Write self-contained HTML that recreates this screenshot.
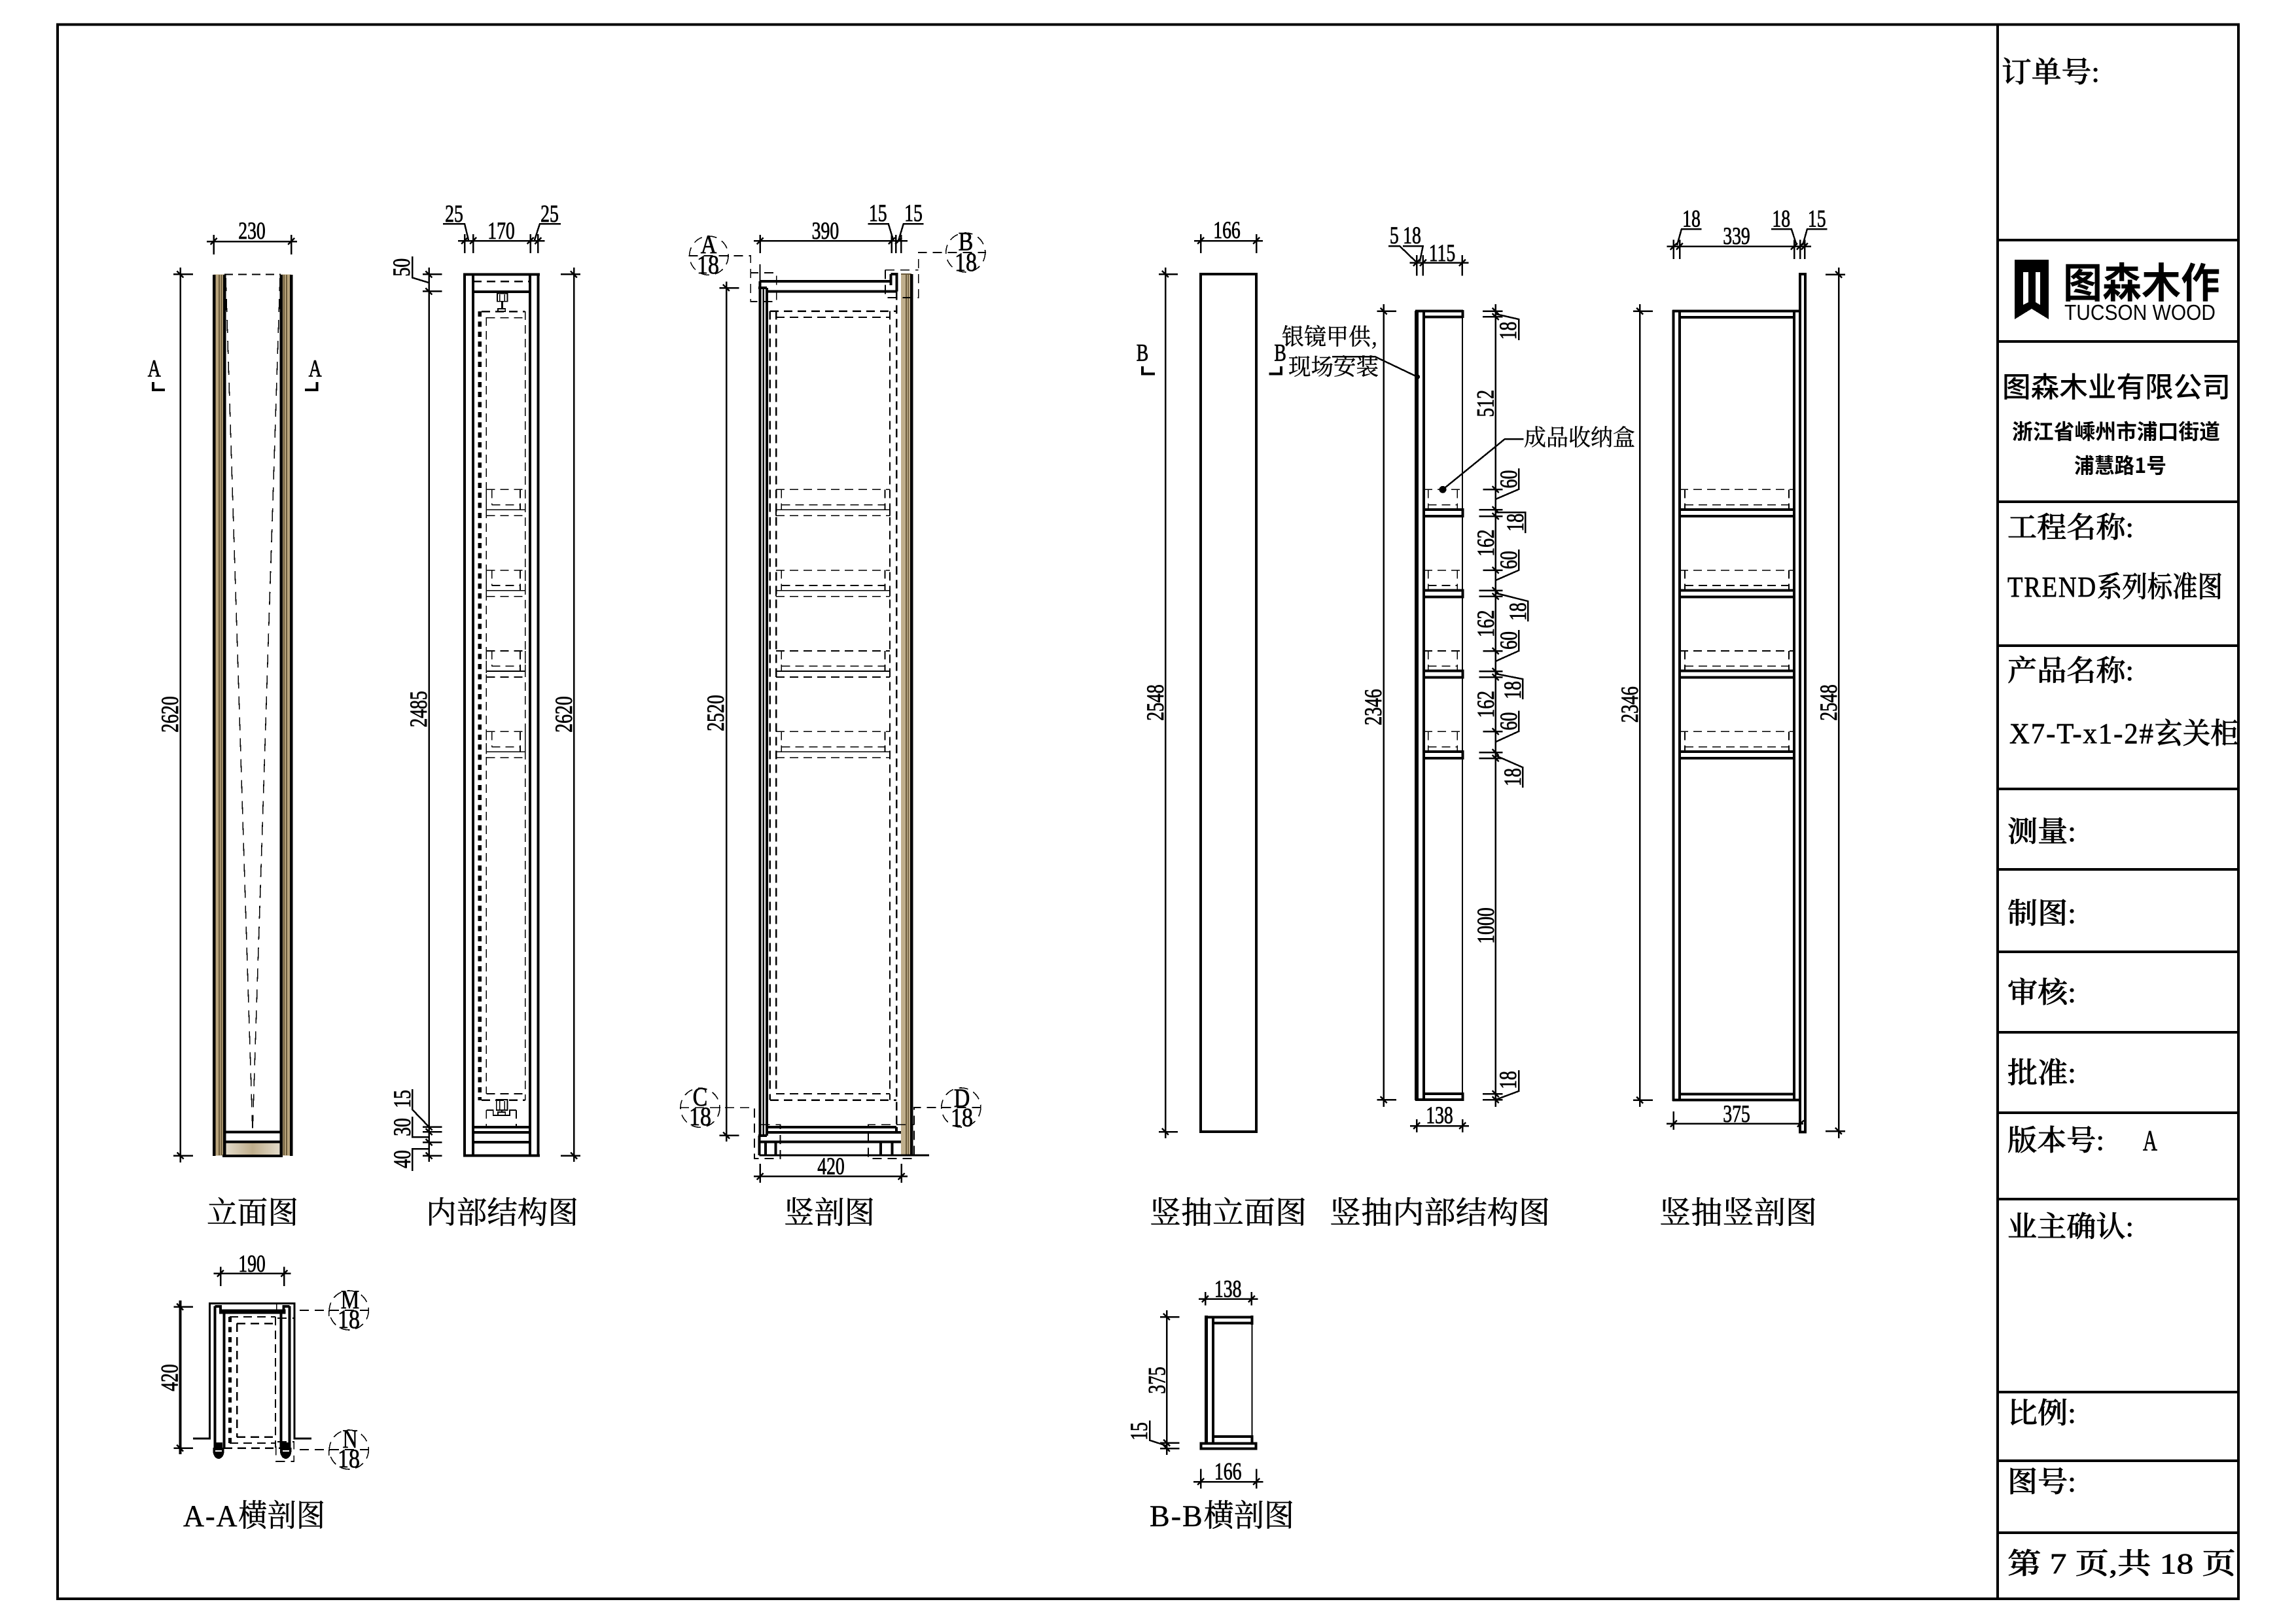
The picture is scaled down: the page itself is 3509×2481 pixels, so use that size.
<!DOCTYPE html>
<html lang="zh"><head><meta charset="utf-8"><title>TREND系列标准图</title>
<style>
html,body{margin:0;padding:0;background:#fff}
svg{display:block}
path,rect,circle,line{fill:none;stroke:#000}
.k{stroke-width:4}.m{stroke-width:3}.t{stroke-width:2.5}.n{stroke-width:1.6}
.ds{stroke-width:1.6;stroke-dasharray:13 8}.dm{stroke-width:2.5;stroke-dasharray:13 8}
.dc{stroke-width:1.6;stroke-dasharray:14 9}
.dot{stroke-width:5.5;stroke-dasharray:8 7.4}
.f{fill:#000;stroke:none}
text{fill:#000;stroke:none}
.d{font:37px "Liberation Serif","Noto Serif CJK SC",serif;text-anchor:middle;stroke:#000;stroke-width:.8}
.e{font:40px "Liberation Serif","Noto Serif CJK SC",serif;text-anchor:middle;stroke:#000;stroke-width:.7}
.c{font:47px "Liberation Serif","Noto Serif CJK SC",serif;stroke:#000;stroke-width:.5}
.l{font:35px "Noto Serif CJK SC","Liberation Serif",serif;stroke:#000;stroke-width:.4}
.b{font:500 44px "Liberation Serif","Noto Serif CJK SC",serif;stroke:#000;stroke-width:.7}
.h{font-family:"Noto Sans CJK SC","Liberation Sans",sans-serif;font-weight:700}
tspan.o{letter-spacing:2px}
</style></head><body>
<svg xmlns="http://www.w3.org/2000/svg" width="3509" height="2481" viewBox="0 0 3509 2481" shape-rendering="crispEdges">
<defs>
<path id="v" d="M-5-5 5 5" class="t"/>
<path id="h" d="M-5 5 5-5" class="t"/>
<linearGradient id="g" x1="0" x2="1" y1="0" y2="0"><stop offset="0" stop-color="#e4dccb"/><stop offset=".5" stop-color="#bfae8c"/><stop offset="1" stop-color="#e4dccb"/></linearGradient>
<g id="b2"><path class="ds" d="M743.3 0H802.6M743.3 0V40M802.6 0V40M751.7 0V23.4M795 0V31M751.7 23.4H795M743.3 40H802.6"/><path class="n" d="M743.3 31H802.6"/></g>
<g id="b3"><path class="ds" d="M1186 0H1360M1194.4 0V31M1352.5 0V31M1194.4 23.4H1352.5M1186 40H1360"/><path class="n" d="M1186 31H1360M1186 31V40M1360 31V40"/></g>
<g id="b5"><path class="ds" d="M2176 0H2235M2182.7 0V30M2227.3 0V30M2182.7 23.4H2227.3"/><path class="k" d="M2176 30.7H2236M2176 40.7H2236M2235.5 28.7V42.7"/></g>
<g id="b6"><path class="ds" d="M2567 0H2742M2575 0V30M2734 0V30M2575 23.4H2734"/><path class="k" d="M2567 30.7H2742M2567 40.7H2742"/></g>
</defs>
<rect width="3509" height="2481" style="fill:#fff;stroke:none"/>

<!-- frame + title block -->
<rect x="88" y="37.5" width="3333" height="2406.5" class="k"/>
<path class="k" d="M3053 37.5V2444M3053 367H3421M3053 522H3421M3053 767H3421M3053 987H3421M3053 1206H3421M3053 1329H3421M3053 1455H3421M3053 1578H3421M3053 1701H3421M3053 1833H3421M3053 2128H3421M3053 2233H3421M3053 2343H3421"/>
<text class="b" x="3059" y="125" textLength="150" lengthAdjust="spacingAndGlyphs">订单号:</text>
<path class="f" d="M3079 397H3131V488L3105 472 3079 488Z"/>
<path style="fill:#fff;stroke:none" d="M3092 416H3100V462L3092 466ZM3111 416H3118V466L3111 462Z"/>
<text class="h" x="3153" y="455" font-size="63" textLength="240" lengthAdjust="spacingAndGlyphs">图森木作</text>
<text x="3155" y="489" font-family="Liberation Sans" font-size="33" textLength="231" lengthAdjust="spacingAndGlyphs">TUCSON WOOD</text>
<text class="h" style="font-weight:500" x="3060" y="607" font-size="43" textLength="349" lengthAdjust="spacingAndGlyphs">图森木业有限公司</text>
<text class="h" x="3075" y="671" font-size="32" textLength="318" lengthAdjust="spacingAndGlyphs">浙江省嵊州市浦口街道</text>
<text class="h" x="3170" y="723" font-size="32" textLength="141" lengthAdjust="spacingAndGlyphs">浦慧路1号</text>
<text class="b" x="3068" y="821" textLength="193" lengthAdjust="spacingAndGlyphs">工程名称:</text>
<text class="b" x="3068" y="912" textLength="329" lengthAdjust="spacingAndGlyphs"><tspan class="o">TREND</tspan>系列标准图</text>
<text class="b" x="3068" y="1040" textLength="193" lengthAdjust="spacingAndGlyphs">产品名称:</text>
<text class="b" x="3071" y="1136" textLength="350" lengthAdjust="spacingAndGlyphs"><tspan class="o">X7-T-x1-2#</tspan>玄关柜</text>
<text class="b" x="3068" y="1286" textLength="105" lengthAdjust="spacingAndGlyphs">测量:</text>
<text class="b" x="3068" y="1411" textLength="105" lengthAdjust="spacingAndGlyphs">制图:</text>
<text class="b" x="3068" y="1532" textLength="105" lengthAdjust="spacingAndGlyphs">审核:</text>
<text class="b" x="3068" y="1655" textLength="105" lengthAdjust="spacingAndGlyphs">批准:</text>
<text class="b" x="3068" y="1758" textLength="148" lengthAdjust="spacingAndGlyphs">版本号:</text>
<text class="b" x="3275" y="1758" textLength="22" lengthAdjust="spacingAndGlyphs">A</text>
<text class="b" x="3068" y="1890" textLength="193" lengthAdjust="spacingAndGlyphs">业主确认:</text>
<text class="b" x="3068" y="2175" textLength="105" lengthAdjust="spacingAndGlyphs">比例:</text>
<text class="b" x="3068" y="2280" textLength="105" lengthAdjust="spacingAndGlyphs">图号:</text>
<text class="b" x="3068" y="2405" textLength="349" lengthAdjust="spacingAndGlyphs">第 7 页,共 18 页</text>

<!-- titles -->
<text class="c" x="316" y="1870" textLength="140" lengthAdjust="spacingAndGlyphs">立面图</text>
<text class="c" x="651" y="1870" textLength="233" lengthAdjust="spacingAndGlyphs">内部结构图</text>
<text class="c" x="1198" y="1870" textLength="139" lengthAdjust="spacingAndGlyphs">竖剖图</text>
<text class="c" x="1757" y="1870" textLength="240" lengthAdjust="spacingAndGlyphs">竖抽立面图</text>
<text class="c" x="2032" y="1870" textLength="337" lengthAdjust="spacingAndGlyphs">竖抽内部结构图</text>
<text class="c" x="2536" y="1870" textLength="241" lengthAdjust="spacingAndGlyphs">竖抽竖剖图</text>
<text class="c" x="280" y="2333" textLength="217" lengthAdjust="spacingAndGlyphs"><tspan class="o">A-A</tspan>横剖图</text>
<text class="c" x="1757" y="2333" textLength="221" lengthAdjust="spacingAndGlyphs"><tspan class="o">B-B</tspan>横剖图</text>

<!-- VIEW 1 elevation -->
<rect x="326.5" y="419.5" width="16.5" height="1347" style="fill:#b8a47c;stroke:none"/>
<rect x="428.6" y="419.5" width="16.5" height="1347" style="fill:#b8a47c;stroke:none"/>
<rect x="343" y="1746" width="86" height="20" style="fill:url(#g);stroke:none"/>
<path style="stroke:#6b5a3a;stroke-width:1.6" d="M335 420V1766M338.5 420V1766M434 420V1766M438 420V1766"/>
<path style="stroke-width:4.5" d="M327 420V1767M343 420V1767M429.5 420V1767M445 420V1767"/>
<path class="k" d="M340 1767H432M343 1730.7H429.5M343 1745.7H429.5"/>
<path style="stroke-width:2;stroke-dasharray:13 8" d="M343 419.5H429"/>
<path style="stroke-width:1.6;stroke-dasharray:20 12" d="M345 425L386 1728M428 425L386 1728"/>
<path class="k" d="M234 584V596H252M466 596H484.7V584"/>
<text class="d" transform="translate(235.7 575.5) scale(.75 1)">A</text>
<text class="d" transform="translate(481.6 575.5) scale(.75 1)">A</text>
<path class="t" d="M275.5 409V1777M265 419.4H295M265 1766.7H295M316 369H454M326.5 359V389M445 359V389"/>
<use href="#v" x="275.5" y="419.4"/><use href="#v" x="275.5" y="1766.7"/><use href="#h" x="326.5" y="369"/><use href="#h" x="445" y="369"/>
<text class="d" transform="translate(385 365) scale(.75 1)">230</text>
<text class="d" transform="translate(272 1092) rotate(-90) scale(.75 1)">2620</text>

<!-- VIEW 2 internal -->
<path class="k" d="M710 419.4V1767M723 419.4V1767M810 419.4V1767M822.5 419.4V1767M708 419.4H825M708 1766.7H825M723 445.8H810M723 1723H810M723 1731H810M723 1746H810"/>
<path class="dm" d="M723 430H810"/>
<path class="dot" d="M733 476V1682"/>
<path class="ds" d="M743.3 485V1672M802.6 476V1682M743.3 485.6H802.6M743.3 1672H802.6"/>
<path class="dm" d="M736 476H802.6M736 1681.7H802.6"/>
<use href="#b2" y="748.3"/><use href="#b2" y="871.6"/><use href="#b2" y="995"/><use href="#b2" y="1118.3"/>
<path class="n" d="M760 448.5H775.5V460.7H760ZM763.8 450V460.7M771.4 450V460.7M761 472H772.4V476H761Z"/>
<path class="m" d="M767.3 460.7V472"/>
<path class="n" d="M758.7 1681H775.5V1697H758.7ZM763.8 1683V1697M771.4 1683V1697M761 1700H772.4V1705H761ZM767 1697V1700"/>
<path class="n" d="M743.3 1697H753.6V1705H779V1697H789"/>
<path class="ds" d="M743.3 1697V1723M789 1697V1723"/>
<path class="t" d="M655.6 409V1776M646 419.4H675.5M646 445.4H675.5M646 1722.7H675.5M646 1730H675.5M646 1746H675.5M646 1766.7H675.5"/>
<path class="t" d="M877 409V1776M857 419.4H887M857 1766.7H887"/>
<path class="t" d="M700 368H832.6M710 358V387M723 358V387M810.7 358V387M822.4 358V387"/>
<path class="t" d="M677 342H710L716 367M857 342H825L817 367M630 392V424.4L655 432M630 1665V1696L655 1722M630 1707V1738H655M630 1790V1756H655"/>
<use href="#v" x="655.6" y="419.4"/><use href="#v" x="655.6" y="445.4"/><use href="#v" x="655.6" y="1722.7"/><use href="#v" x="655.6" y="1730"/><use href="#v" x="655.6" y="1746"/><use href="#v" x="655.6" y="1766.7"/><use href="#v" x="877" y="419.4"/><use href="#v" x="877" y="1766.7"/>
<use href="#h" x="710" y="368"/><use href="#h" x="723" y="368"/><use href="#h" x="810.7" y="368"/><use href="#h" x="822.4" y="368"/>
<text class="d" transform="translate(694 339) scale(.75 1)">25</text>
<text class="d" transform="translate(840 339) scale(.75 1)">25</text>
<text class="d" transform="translate(766 365) scale(.75 1)">170</text>
<text class="d" transform="translate(626 408.7) rotate(-90) scale(.75 1)">50</text>
<text class="d" transform="translate(627 1680) rotate(-90) scale(.75 1)">15</text>
<text class="d" transform="translate(627 1723) rotate(-90) scale(.75 1)">30</text>
<text class="d" transform="translate(627 1772) rotate(-90) scale(.75 1)">40</text>
<text class="d" transform="translate(652 1084) rotate(-90) scale(.75 1)">2485</text>
<text class="d" transform="translate(874 1092) rotate(-90) scale(.75 1)">2620</text>

<!-- VIEW 3 section -->
<rect x="1377" y="419" width="16" height="1347" style="fill:#bfae8c;stroke:none"/>
<path style="stroke:#6b5a3a;stroke-width:1.6" d="M1377 419H1393M1385 419V1766M1388.4 419V1766"/>
<path style="stroke-width:4.5" d="M1393.4 419V1766"/>
<path class="k" d="M1161.5 430V1736M1172 440V1736M1161 430H1361.6M1172 445.7H1370M1361.6 419H1370.4V445.7M1361.6 419V436M1159 440H1172M1159 1736H1172"/>
<path style="stroke-width:2.5" d="M1166.5 440V1736"/>
<path class="n" d="M1161.5 404V430"/>
<path class="dm" d="M1176.8 475.7V1681.7M1186 475.7V1672M1370 445.7V1725M1176.8 475.7H1370M1176.8 1681.7H1370"/>
<path class="ds" d="M1360 475.7V1681.7M1186 485H1360M1186 1672H1360"/>
<use href="#b3" y="748.3"/><use href="#b3" y="871.6"/><use href="#b3" y="995"/><use href="#b3" y="1118.3"/>
<path class="k" d="M1172 1723H1370M1172 1731H1377M1160.7 1745.7H1377M1160.7 1736V1766M1170 1746V1766M1185.6 1746V1766M1346 1746V1766M1363.5 1746V1766M1370 1723V1731"/>
<path class="m" d="M1160.7 1766H1420"/>
<path class="dc" d="M1052.4 391H1147.3V461H1186.8V417H1147.3M1353 412.7V455H1403.7V386H1507M1353 412.7H1403.7M1039 1693.3H1153V1771H1192.5V1719.3H1153M1499.4 1693H1397V1771H1327V1719.3H1397"/>
<circle class="dc" cx="1083.4" cy="390.7" r="29.7"/>
<circle class="dc" cx="1475.7" cy="386" r="30"/>
<circle class="dc" cx="1070" cy="1693.3" r="30"/>
<circle class="dc" cx="1468.8" cy="1693" r="30"/>
<text class="e" transform="translate(1083 387) scale(.85 1)">A</text>
<text class="e" transform="translate(1082 418) scale(.85 1)">18</text>
<text class="e" transform="translate(1476 382.7) scale(.85 1)">B</text>
<text class="e" transform="translate(1476 414) scale(.85 1)">18</text>
<text class="e" transform="translate(1070 1690) scale(.85 1)">C</text>
<text class="e" transform="translate(1070 1720) scale(.85 1)">18</text>
<text class="e" transform="translate(1470 1692) scale(.85 1)">D</text>
<text class="e" transform="translate(1470 1721.7) scale(.85 1)">18</text>
<path class="t" d="M1110 430.7V1745M1099.5 440H1129.4M1099.5 1735.7H1129.4"/>
<path class="t" d="M1152 368.3H1387M1161.5 359V387M1362.8 359V387M1369 359V387M1377 359V387M1326.4 342.3H1357.8L1365.5 368M1411.4 342.3H1380.8L1373 368"/>
<path class="t" d="M1152 1798.3H1387M1161.5 1779V1808M1377.7 1779V1808"/>
<use href="#v" x="1110" y="440"/><use href="#v" x="1110" y="1735.7"/>
<use href="#h" x="1161.5" y="368.3"/><use href="#h" x="1362.8" y="368.3"/><use href="#h" x="1373" y="368.3"/><use href="#h" x="1161.5" y="1798.3"/><use href="#h" x="1377.7" y="1798.3"/>
<text class="d" transform="translate(1261.4 365) scale(.75 1)">390</text>
<text class="d" transform="translate(1341.7 338) scale(.75 1)">15</text>
<text class="d" transform="translate(1396 338) scale(.75 1)">15</text>
<text class="d" transform="translate(1270 1795) scale(.75 1)">420</text>
<text class="d" transform="translate(1106 1090) rotate(-90) scale(.75 1)">2520</text>

<!-- VIEW 4 drawer elevation -->
<rect x="1835" y="419" width="85" height="1311" class="k"/>
<path class="t" d="M1825 368H1930M1835 358V387M1920 358V387M1781 409V1740M1771 419H1800M1771 1730H1800"/>
<use href="#h" x="1835" y="368"/><use href="#h" x="1920" y="368"/><use href="#v" x="1781" y="419"/><use href="#v" x="1781" y="1730"/>
<text class="d" transform="translate(1875 364) scale(.75 1)">166</text>
<text class="d" transform="translate(1778 1074) rotate(-90) scale(.75 1)">2548</text>
<text class="d" transform="translate(1746 551.7) scale(.75 1)">B</text>
<text class="d" transform="translate(1956.6 551.7) scale(.75 1)">B</text>
<path class="k" d="M1746 560V571.7H1765M1939.4 571.7H1958V560"/>

<!-- VIEW 5 drawer internal -->
<path style="stroke-width:6" d="M2165 475V1682"/>
<path class="k" d="M2176 475V1682M2163 475.7H2236M2176 484.3H2236M2235.5 474V486M2163 1681H2236M2176 1672H2236M2235.5 1670V1683"/>
<path style="stroke-width:2" d="M2235 484V1672"/>
<use href="#b5" y="748.3"/><use href="#b5" y="871.6"/><use href="#b5" y="995"/><use href="#b5" y="1118.3"/>
<path class="t" d="M2154.5 401.7H2244.4M2165 390V421.7M2174.8 390V421.7M2234.9 390V421.7M2122 376H2139L2164 400M2143.8 376H2174.8L2169.8 400"/>
<use href="#h" x="2165" y="401.7"/><use href="#h" x="2174.8" y="401.7"/><use href="#h" x="2234.9" y="401.7"/>
<text class="d" transform="translate(2130.8 372) scale(.75 1)">5</text>
<text class="d" transform="translate(2158 372) scale(.75 1)">18</text>
<text class="d" transform="translate(2204 399) scale(.75 1)">115</text>
<path class="t" d="M2114.7 465V1692M2104.7 475.7H2134M2104.7 1681H2134"/>
<use href="#v" x="2114.7" y="475.7"/><use href="#v" x="2114.7" y="1681"/>
<text class="d" transform="translate(2111 1081) rotate(-90) scale(.75 1)">2346</text>
<path class="t" d="M2285.7 465V1692M2266 475.7H2296.7M2266 484.3H2296.7M2266.7 748.3H2296.7M2260.7 779H2296.7M2260.7 789H2296.7M2266.7 871.7H2296.7M2260.7 902.7H2296.7M2260.7 911.7H2296.7M2266.7 995H2296.7M2260.7 1026H2296.7M2260.7 1035H2296.7M2266.7 1118.3H2296.7M2260.7 1150H2296.7M2260.7 1159.3H2296.7M2266 1672H2296.7M2266 1681H2296.7"/>
<use href="#v" x="2285.7" y="475.7"/><use href="#v" x="2285.7" y="484.3"/><use href="#v" x="2285.7" y="748.3"/><use href="#v" x="2285.7" y="779"/><use href="#v" x="2285.7" y="789"/><use href="#v" x="2285.7" y="871.7"/><use href="#v" x="2285.7" y="902.7"/><use href="#v" x="2285.7" y="911.7"/><use href="#v" x="2285.7" y="995"/><use href="#v" x="2285.7" y="1026"/><use href="#v" x="2285.7" y="1035"/><use href="#v" x="2285.7" y="1118.3"/><use href="#v" x="2285.7" y="1150"/><use href="#v" x="2285.7" y="1159.3"/><use href="#v" x="2285.7" y="1672"/><use href="#v" x="2285.7" y="1681"/>
<path class="t" d="M2286 480L2321 488V520M2321 716V748L2286 763M2286 783H2331V815M2321 840V871.7L2286 887M2286 906.7L2335 919V950M2321 963V995L2286 1010.7M2286 1030L2327 1038V1069M2321 1086.7V1118L2286 1134M2286 1155L2327 1173V1204M2286 1681L2321 1668V1636"/>
<text class="d" transform="translate(2317 505.5) rotate(-90) scale(.75 1)">18</text>
<text class="d" transform="translate(2282.7 616.7) rotate(-90) scale(.75 1)">512</text>
<text class="d" transform="translate(2318 732.5) rotate(-90) scale(.75 1)">60</text>
<text class="d" transform="translate(2328 798.7) rotate(-90) scale(.75 1)">18</text>
<text class="d" transform="translate(2283 830) rotate(-90) scale(.75 1)">162</text>
<text class="d" transform="translate(2318 856) rotate(-90) scale(.75 1)">60</text>
<text class="d" transform="translate(2332 935) rotate(-90) scale(.75 1)">18</text>
<text class="d" transform="translate(2283 953.3) rotate(-90) scale(.75 1)">162</text>
<text class="d" transform="translate(2318 979) rotate(-90) scale(.75 1)">60</text>
<text class="d" transform="translate(2324 1055) rotate(-90) scale(.75 1)">18</text>
<text class="d" transform="translate(2283 1076.7) rotate(-90) scale(.75 1)">162</text>
<text class="d" transform="translate(2318 1102.5) rotate(-90) scale(.75 1)">60</text>
<text class="d" transform="translate(2324 1188) rotate(-90) scale(.75 1)">18</text>
<text class="d" transform="translate(2283 1415) rotate(-90) scale(.75 1)">1000</text>
<text class="d" transform="translate(2317 1651) rotate(-90) scale(.75 1)">18</text>
<path class="t" d="M2155 1721H2245M2165 1711V1731M2235 1711V1731"/>
<use href="#h" x="2165" y="1721"/><use href="#h" x="2235" y="1721"/>
<text class="d" transform="translate(2200 1717) scale(.75 1)">138</text>
<path class="t" d="M2035.9 545H2101L2166 576M2328.6 671H2300L2205 748.3"/>
<circle class="f" cx="2166" cy="576" r="4"/>
<circle class="f" cx="2205" cy="748.3" r="5.5"/>
<text class="l" x="1959" y="527" textLength="147" lengthAdjust="spacingAndGlyphs">银镜甲供,</text>
<text class="l" x="1969" y="573" textLength="138" lengthAdjust="spacingAndGlyphs">现场安装</text>
<text class="l" x="2329" y="681" textLength="170" lengthAdjust="spacingAndGlyphs">成品收纳盒</text>

<!-- VIEW 6 drawer section -->
<path class="k" d="M2557.7 474V1683M2567 475.7V1681.7M2742 475.7V1681.7M2751 419V1730.7M2759 419V1730.7M2749 419H2761M2749 1730.7H2761M2556 475.7H2751M2567 485H2742M2556 1681.7H2751M2567 1672.7H2742"/>
<use href="#b6" y="748.3"/><use href="#b6" y="871.6"/><use href="#b6" y="995"/><use href="#b6" y="1118.3"/>
<path class="t" d="M2547.3 376.7H2768M2557.7 366.7V396M2567 366.7V396M2742 366.7V396M2751 366.7V396M2758 366.7V396M2600.7 350H2570L2563 375M2707 350H2737.7L2746 375M2792.7 350H2762L2755 375"/>
<use href="#h" x="2557.7" y="376.7"/><use href="#h" x="2567" y="376.7"/><use href="#h" x="2742" y="376.7"/><use href="#h" x="2751" y="376.7"/><use href="#h" x="2758" y="376.7"/>
<text class="d" transform="translate(2585 346.7) scale(.75 1)">18</text>
<text class="d" transform="translate(2654 373) scale(.75 1)">339</text>
<text class="d" transform="translate(2722.3 346.7) scale(.75 1)">18</text>
<text class="d" transform="translate(2776.7 346.7) scale(.75 1)">15</text>
<path class="t" d="M2547 1717.7H2756M2557.7 1699V1727M2506 465V1692M2496 475.7H2526M2496 1681.7H2526M2810 409V1740M2790 419.7H2820M2790 1729H2820"/>
<use href="#h" x="2557.7" y="1717.7"/><use href="#h" x="2751.7" y="1717.7"/><use href="#v" x="2506" y="475.7"/><use href="#v" x="2506" y="1681.7"/><use href="#v" x="2810" y="419.7"/><use href="#v" x="2810" y="1729"/>
<text class="d" transform="translate(2654 1715) scale(.75 1)">375</text>
<text class="d" transform="translate(2503 1077) rotate(-90) scale(.75 1)">2346</text>
<text class="d" transform="translate(2807 1074) rotate(-90) scale(.75 1)">2548</text>

<!-- A-A -->
<path class="m" d="M295 2199H320.7V1992.7H450V2199H476"/>
<path class="k" d="M328.3 1996.7V2213M342.3 2005V2213M429.3 2005V2213M442.3 1996.7V2213M328.3 1997H337V2007M442.3 1997H433.7V2007"/>
<path style="stroke-width:7" d="M335 2005H436.7"/>
<path class="dot" style="stroke-width:5" d="M351.3 2013V2207"/>
<path class="dm" d="M362 2023V2197M362 2023H421M362 2196.7H421M342 2213.7H430"/>
<path class="ds" d="M421 2013V2213M351 2013H421M351 2206H421"/>
<path class="f" d="M325.5 2213H329V2205H340V2213H342.7V2218A8.6 12 0 0 1 325.5 2218Z"/>
<path class="f" d="M428 2213H431V2205H442V2213H445.4V2218A8.7 12 0 0 1 428 2218Z"/>
<path style="stroke:#fff;stroke-width:2" d="M329 2218H339M432 2218H442"/>
<path class="dc" d="M564 2003H450V2015H422.7V1991.7H450V2015M502.7 2003V2012M564 2216H449.3V2204H421.7V2234H449.3V2216M502.7 2216V2225"/>
<circle class="dc" cx="533.3" cy="2003" r="30"/>
<circle class="dc" cx="533.3" cy="2216" r="30"/>
<text class="e" transform="translate(535 2000) scale(.8 1)">M</text>
<text class="e" transform="translate(533 2030) scale(.85 1)">18</text>
<text class="e" transform="translate(535 2213) scale(.8 1)">N</text>
<text class="e" transform="translate(533 2243) scale(.85 1)">18</text>
<path class="t" d="M326.7 1946.7H444.3M337 1936.7V1966M434.3 1936.7V1966"/>
<path class="k" d="M275.3 1988V2223"/>
<path class="t" d="M265.7 1997.7H295M265.7 2213.7H295"/>
<use href="#h" x="337" y="1946.7"/><use href="#h" x="434.3" y="1946.7"/><use href="#v" x="275.3" y="1997.7"/><use href="#v" x="275.3" y="2213.7"/>
<text class="d" transform="translate(385 1944) scale(.75 1)">190</text>
<text class="d" transform="translate(271.7 2106) rotate(-90) scale(.75 1)">420</text>

<!-- B-B -->
<path style="stroke-width:5" d="M1843.5 2011V2205"/>
<path class="k" d="M1854 2013V2205M1842 2013.3H1915M1854 2022.7H1915M1913.5 2011V2025M1854 2196H1915M1913.5 2194V2205"/>
<path style="stroke-width:2" d="M1913.3 2023V2196"/>
<rect x="1835.5" y="2206.5" width="84" height="8" class="k"/>
<path class="t" d="M1832 1985.7H1922.7M1842 1975V1995.7M1912.7 1975V1995.7M1824 2265H1930.7M1835 2245.7V2275.7M1920 2245.7V2275.7M1783 2003V2224M1773 2013H1802.7M1773 2205.7H1802.7M1773 2214H1802.7M1757 2171.7V2201.7L1783 2210"/>
<use href="#h" x="1842" y="1985.7"/><use href="#h" x="1912.7" y="1985.7"/><use href="#h" x="1835" y="2265"/><use href="#h" x="1920" y="2265"/><use href="#v" x="1783" y="2013"/><use href="#v" x="1783" y="2205.7"/><use href="#v" x="1783" y="2214"/>
<text class="d" transform="translate(1876.7 1982.7) scale(.75 1)">138</text>
<text class="d" transform="translate(1876.7 2261.7) scale(.75 1)">166</text>
<text class="d" transform="translate(1780.7 2110) rotate(-90) scale(.75 1)">375</text>
<text class="d" transform="translate(1753 2188) rotate(-90) scale(.75 1)">15</text>
</svg>
</body></html>
